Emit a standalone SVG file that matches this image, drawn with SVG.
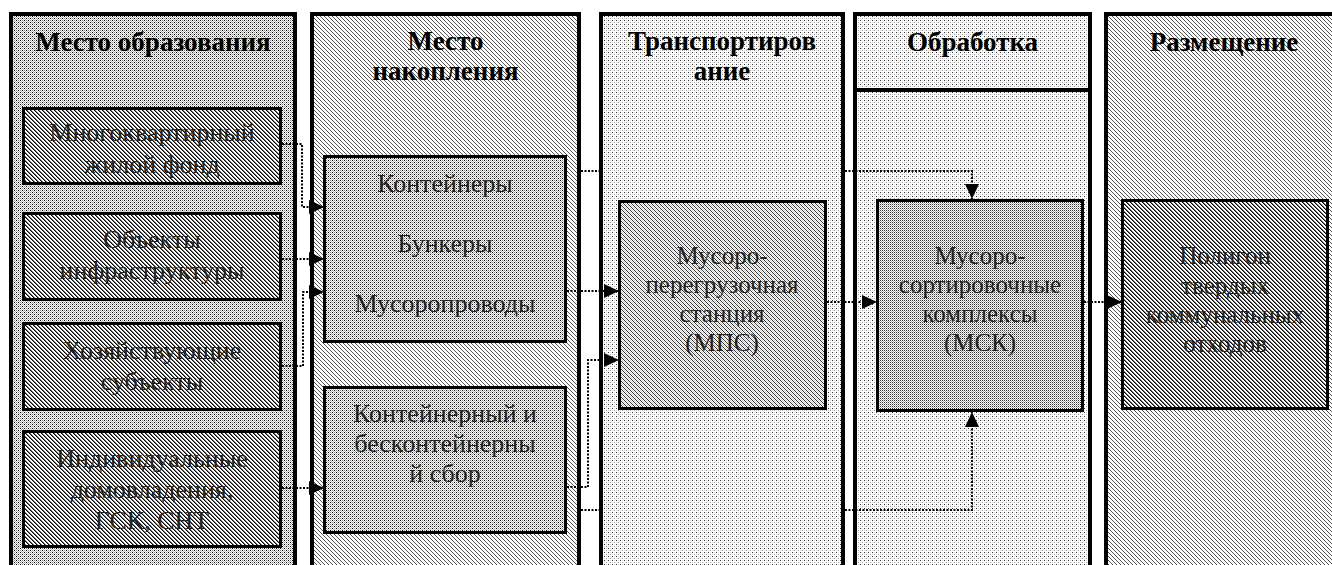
<svg xmlns="http://www.w3.org/2000/svg" width="1332" height="565" viewBox="0 0 1332 565">
<style>
.lane{stroke:#000;stroke-width:4}
.box{stroke:#000;stroke-width:3}
.h{font-family:"Liberation Serif","Times New Roman",serif;font-weight:bold;font-size:27px;fill:#000;text-anchor:middle}
.t{font-family:"Liberation Serif","Times New Roman",serif;font-size:26px;fill:#222;text-anchor:middle}
.s{font-family:"Liberation Serif","Times New Roman",serif;font-size:25px;fill:#222;text-anchor:middle}
.c{fill:none;stroke:#000;stroke-width:2;stroke-dasharray:2 1.5}
.ca{fill:none;stroke:#000;stroke-width:2;stroke-dasharray:2 1.5;marker-end:url(#arr)}
</style>
<defs>
<pattern id="pDots" width="4" height="4" patternUnits="userSpaceOnUse">
<rect width="4" height="4" fill="#fff"/>
<path d="M0 0h1v1H0zM2 2h1v1H2z" fill="#000"/>
<path d="M2 0h1v1H2zM0 2h1v1H0z" fill="#888"/>
<path d="M1 1h1v1H1zM3 3h1v1H3zM1 3h1v1H1zM3 1h1v1H3z" fill="#bbb"/>
</pattern>
<pattern id="pHatchDark" width="4" height="4" patternUnits="userSpaceOnUse">
<rect width="4" height="4" fill="#fff"/>
<path d="M0 0h1v1H0zM1 1h1v1H1zM2 2h1v1H2zM3 3h1v1H3z" fill="#000"/>
<path d="M1 0h1v1H1zM2 1h1v1H2zM3 2h1v1H3zM0 3h1v1H0z" fill="#777"/>
</pattern>
<pattern id="pHatchLight" width="4" height="4" patternUnits="userSpaceOnUse">
<rect width="4" height="4" fill="#fff"/>
<path d="M0 0h1v1H0zM1 1h1v1H1zM2 2h1v1H2zM3 3h1v1H3z" fill="#555"/>
</pattern>
<pattern id="pHatchMid" width="4" height="4" patternUnits="userSpaceOnUse">
<rect width="4" height="4" fill="#fff"/>
<path d="M0 0h1v1H0zM1 1h1v1H1zM2 2h1v1H2zM3 3h1v1H3z" fill="#333"/>
<path d="M2 0h1v1H2zM3 1h1v1H3zM0 2h1v1H0zM1 3h1v1H1z" fill="#ccc"/>
</pattern>
<pattern id="pSparse" width="4" height="4" patternUnits="userSpaceOnUse">
<rect width="4" height="4" fill="#fff"/>
<path d="M0 0h1v1H0z" fill="#333"/>
<path d="M2 2h1v1H2z" fill="#999"/>
<path d="M2 0h1v1H2zM0 2h1v1H0z" fill="#ddd"/>
</pattern>
<pattern id="pDense" width="2" height="2" patternUnits="userSpaceOnUse">
<rect width="2" height="2" fill="#fff"/>
<path d="M0 0h1v1H0z" fill="#333"/>
<path d="M1 1h1v1H1z" fill="#aaa"/>
</pattern>
<marker id="arr" markerUnits="userSpaceOnUse" markerWidth="15" markerHeight="14" viewBox="0 0 15 14" refX="15" refY="7" orient="auto">
<path d="M0 0L15 7L0 14z" fill="#000"/>
</marker>
</defs>

<g id="lane-origin">
<rect class="lane" x="11" y="14" width="284" height="560" fill="url(#pDots)"/>
<text class="h" x="153" y="51">Место образования</text>
</g>
<g id="lane-accumulation">
<rect class="lane" x="312" y="14" width="267" height="560" fill="url(#pHatchLight)"/>
<text class="h" x="445.5" y="50">Место</text>
<text class="h" x="445.5" y="80">накопления</text>
</g>
<g id="lane-transport">
<rect class="lane" x="601" y="14" width="242" height="560" fill="url(#pSparse)"/>
<text class="h" x="722" y="50">Транспортиров</text>
<text class="h" x="722" y="80">ание</text>
</g>
<g id="lane-processing">
<rect class="lane" x="855" y="14" width="235" height="560" fill="url(#pSparse)"/>
<line class="lane" x1="855" y1="90" x2="1090" y2="90"/>
<text class="h" x="972.5" y="51">Обработка</text>
</g>
<g id="lane-placement">
<rect class="lane" x="1106" y="14" width="240" height="560" fill="url(#pHatchLight)"/>
<text class="h" x="1224" y="51">Размещение</text>
</g>

<g id="node-apartments">
<rect class="box" x="23.5" y="108.5" width="257" height="75" fill="url(#pHatchDark)"/>
<text class="t" x="152" y="141">Многоквартирный</text>
<text class="t" x="152" y="173">жилой фонд</text>
</g>
<g id="node-infrastructure">
<rect class="box" x="23.5" y="213.5" width="257" height="86" fill="url(#pHatchDark)"/>
<text class="t" x="152" y="248">Объекты</text>
<text class="t" x="152" y="279">инфраструктуры</text>
</g>
<g id="node-business">
<rect class="box" x="23.5" y="323.5" width="257" height="86" fill="url(#pHatchDark)"/>
<text class="t" x="152" y="359">Хозяйствующие</text>
<text class="t" x="152" y="390">субъекты</text>
</g>
<g id="node-private">
<rect class="box" x="23.5" y="431.5" width="257" height="115" fill="url(#pHatchDark)"/>
<text class="t" x="152" y="467">Индивидуальные</text>
<text class="t" x="152" y="498">домовладения,</text>
<text class="t" x="152" y="529">ГСК, СНТ</text>
</g>
<g id="node-containers">
<rect class="box" x="324.5" y="156.5" width="241" height="185" fill="url(#pDots)"/>
<text class="t" x="445" y="192">Контейнеры</text>
<text class="t" x="445" y="252">Бункеры</text>
<text class="t" x="445" y="312">Мусоропроводы</text>
</g>
<g id="node-collection">
<rect class="box" x="324.5" y="387.5" width="241" height="145" fill="url(#pDots)"/>
<text class="t" x="445" y="422">Контейнерный и</text>
<text class="t" x="445" y="452">бесконтейнерны</text>
<text class="t" x="445" y="482">й сбор</text>
</g>
<g id="node-mps">
<rect class="box" x="619.5" y="201.5" width="206" height="207" fill="url(#pHatchMid)"/>
<text class="s" x="722" y="264">Мусоро-</text>
<text class="s" x="722" y="293">перегрузочная</text>
<text class="s" x="722" y="322">станция</text>
<text class="s" x="722" y="351">(МПС)</text>
</g>
<g id="node-msk">
<rect class="box" x="877.5" y="200.5" width="205" height="210" fill="url(#pDense)"/>
<text class="s" x="980" y="264">Мусоро-</text>
<text class="s" x="980" y="293">сортировочные</text>
<text class="s" x="980" y="322">комплексы</text>
<text class="s" x="980" y="351">(МСК)</text>
</g>
<g id="node-landfill">
<rect class="box" x="1122.5" y="200.5" width="205" height="208" fill="url(#pHatchDark)"/>
<text class="s" x="1225" y="264">Полигон</text>
<text class="s" x="1225" y="294">твердых</text>
<text class="s" x="1225" y="323">коммунальных</text>
<text class="s" x="1225" y="352">отходов</text>
</g>

<g id="connectors">
<path class="ca" d="M282 144H302V207H324"/>
<path class="ca" d="M282 259H324"/>
<path class="ca" d="M282 366H303V292H324"/>
<path class="ca" d="M282 488H324"/>
<path class="ca" d="M567 291H619"/>
<path class="ca" d="M567 487H588V360H619"/>
<path class="ca" d="M581 171H599M845 171H972V199"/>
<path class="ca" d="M581 510H599M845 510H972V412"/>
<path class="ca" d="M827 302H877"/>
<path class="ca" d="M1084 302H1122"/>
</g>
</svg>
